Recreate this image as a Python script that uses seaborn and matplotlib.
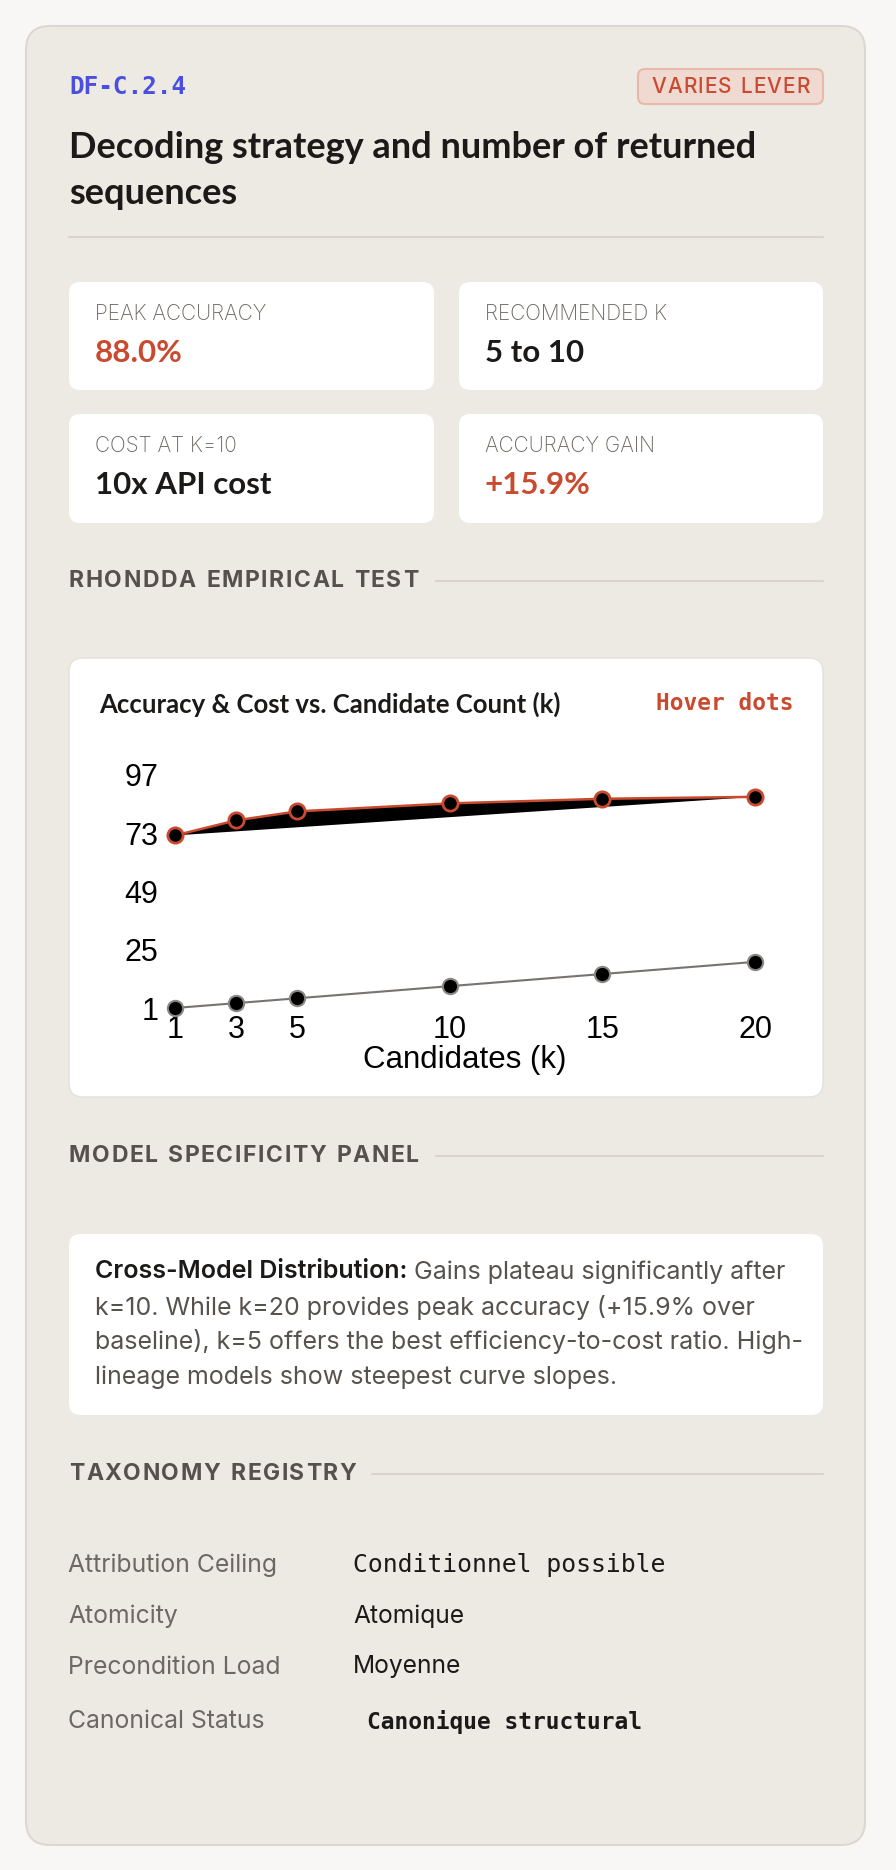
import matplotlib
matplotlib.use("Agg")
import matplotlib.pyplot as plt
import seaborn as sns
from matplotlib.patches import FancyBboxPatch

# chart data
k_values = [1, 3, 5, 10, 15, 20]
accuracy = [72.1, 78.3, 82.0, 85.3, 87.2, 88.0]
cost = [1, 3, 5, 10, 15, 20]
y_ticks = [1, 25, 49, 73, 97]

# card texts
card_id = "DF-C.2.4"
badge = "VARIES LEVER"
title_lines = ["Decoding strategy and number of returned", "sequences"]
stat_labels = ["PEAK ACCURACY", "RECOMMENDED K", "COST AT K=10", "ACCURACY GAIN"]
stat_values = ["88.0%", "5 to 10", "10x API cost", "+15.9%"]
stat_is_red = [True, False, False, True]
chart_title = "Accuracy & Cost vs. Candidate Count (k)"
note_bold = "Cross-Model Distribution:"
note_lines = [" Gains plateau significantly after",
              "k=10. While k=20 provides peak accuracy (+15.9% over",
              "baseline), k=5 offers the best efficiency-to-cost ratio. High-",
              "lineage models show steepest curve slopes."]
registry_keys = ["Attribution Ceiling", "Atomicity", "Precondition Load", "Canonical Status"]
registry_values = ["Conditionnel possible", "Atomique", "Moyenne", "Canonique structural"]

RED = "#c94a2e"
BLUE = "#4b4fe0"
DARK = "#1b1a19"
GRAY = "#6d6863"
HEAD = "#56514c"
RULE = "#d9d4ce"

sns.set_theme(style="white")
plt.rcParams["font.family"] = ["Inter", "DejaVu Sans"]

W, H = 896, 1870
fig = plt.figure(figsize=(W / 100, H / 100), dpi=100)
fig.patch.set_facecolor("#f8f7f5")
renderer = fig.canvas.get_renderer()

# background layer in pixel units (y goes down)
bg = fig.add_axes([0, 0, 1, 1])
bg.set_xlim(0, W)
bg.set_ylim(H, 0)
bg.axis("off")
bg.set_zorder(0)


def rbox(x0, y0, x1, y1, r, fc, ec="none", lw=0):
    bg.add_patch(FancyBboxPatch((x0, y0), x1 - x0, y1 - y0,
                                boxstyle=f"round,pad=0,rounding_size={r}",
                                fc=fc, ec=ec, lw=lw))


def spaced(x, y, s, gap, ha="left", **kw):
    # crude letter-spacing: place glyphs one by one
    widths = []
    for ch in s:
        t = bg.text(0, 0, ch if ch != " " else "i", **kw)
        w = t.get_window_extent(renderer).width
        if ch == " ":
            w *= 1.1
        widths.append(w)
        t.remove()
    total = sum(widths) + gap * (len(s) - 1)
    if ha == "center":
        x -= total / 2
    for ch, w in zip(s, widths):
        bg.text(x, y, ch, va="center", **kw)
        x += w + gap


def section(y, text, line_start):
    spaced(69, y, text, 1.6, fontsize=16.5, fontweight="bold", color=HEAD,
           family=["Inter", "DejaVu Sans"])
    bg.plot([line_start, 823], [y, y], color=RULE, lw=1.5)


# outer card
rbox(26, 26, 865, 1845, 24, "#ede9e3", "#dcd7d1", 1.5)

# header
bg.text(69, 87, card_id, fontsize=17.5, fontweight="bold", color=BLUE,
        va="center", family="DejaVu Sans Mono")
rbox(638, 69, 823, 104, 7, "#efd9d0", "#e6b9a9", 1.5)
spaced(730.5, 87, badge, 1.2, ha="center", fontsize=15, fontweight="medium", color=RED)
for i, line in enumerate(title_lines):
    bg.text(69, 147 + i * 46, line, fontsize=26, fontweight="bold", color=DARK,
            va="center", family="Lato")
bg.plot([69, 823], [237, 237], color=RULE, lw=1.5)

# stat tiles
tiles = [(69, 282, 434, 390), (459, 282, 823, 390),
         (69, 414, 434, 523), (459, 414, 823, 523)]
for (x0, y0, x1, y1), lab, val, red in zip(tiles, stat_labels, stat_values, stat_is_red):
    rbox(x0, y0, x1, y1, 11, "white")
    bg.text(x0 + 26, y0 + 32, lab, fontsize=15, fontweight="light", color=GRAY, va="center")
    bg.text(x0 + 26, y0 + 71, val, fontsize=22.5, fontweight="bold",
            color=RED if red else DARK, va="center", family="Lato")

# chart section
section(581, "RHONDDA EMPIRICAL TEST", 436)
rbox(69, 658, 823, 1097, 14, "white", "#e4e0db", 1)
bg.text(99, 704, chart_title, fontsize=18.5, fontweight="bold", color=DARK,
        va="center", family="Lato")
bg.text(793, 704, "Hover dots", fontsize=16.4, fontweight="bold", color=RED,
        va="center", ha="right", family="DejaVu Sans Mono")

ax = fig.add_axes([175 / W, 1 - 1008 / H, (755 - 175) / W, (1008 - 775) / H])
ax.set_zorder(2)
ax.patch.set_alpha(0)

# accuracy path is closed and filled, as in the reference
ax.fill(k_values, accuracy, color="black", lw=0, zorder=1)
sns.lineplot(x=k_values, y=accuracy, ax=ax, color=RED, lw=1.8, marker="o",
             markersize=11, markerfacecolor="black", markeredgecolor=RED,
             markeredgewidth=2, clip_on=False, zorder=3)
sns.lineplot(x=k_values, y=cost, ax=ax, color="#777370", lw=1.5, marker="o",
             markersize=11, markerfacecolor="black", markeredgecolor="#8a8683",
             markeredgewidth=1.5, clip_on=False, zorder=3)

ax.set_xlim(1, 20)
ax.set_ylim(1, 97)
ax.set_xticks(k_values)
ax.set_yticks(y_ticks)
ax.tick_params(axis="both", length=0, labelsize=22, labelcolor="black")
ax.tick_params(axis="y", pad=12)
ax.tick_params(axis="x", pad=5)
for lbl in ax.get_xticklabels() + ax.get_yticklabels():
    lbl.set_family("Liberation Sans")
ax.set_xlabel("Candidates (k)", fontsize=22.5, family="Liberation Sans",
              color="black", labelpad=0)
ax.set_ylabel("")
sns.despine(ax=ax, left=True, bottom=True)
ax.grid(False)

# model specificity
section(1156, "MODEL SPECIFICITY PANEL", 436)
rbox(69, 1234, 823, 1415, 12, "white")
t = bg.text(95, 1272, note_bold, fontsize=18, fontweight="semibold", color=DARK, va="center")
bold_w = t.get_window_extent(renderer).width
for i, line in enumerate(note_lines):
    x = 95 + bold_w if i == 0 else 95
    bg.text(x, 1272 + i * 35, line, fontsize=18, color="#57524e", va="center")

# taxonomy registry
section(1474, "TAXONOMY REGISTRY", 372)
row_y = [1565, 1616, 1667, 1722]
for i, (key, val) in enumerate(zip(registry_keys, registry_values)):
    bg.text(68, row_y[i], key, fontsize=17.8, color=GRAY, va="center")
    if i == 0:
        bg.text(353, row_y[i], val, fontsize=17.8, color=DARK, va="center",
                family="DejaVu Sans Mono")
    elif i == 3:
        bg.text(367, row_y[i], val, fontsize=16.5, color=DARK, va="center",
                fontweight="semibold", family="DejaVu Sans Mono")
    else:
        bg.text(353, row_y[i], val, fontsize=17.7, color=DARK, va="center")

fig.savefig("out.png", dpi=100, facecolor=fig.get_facecolor())
